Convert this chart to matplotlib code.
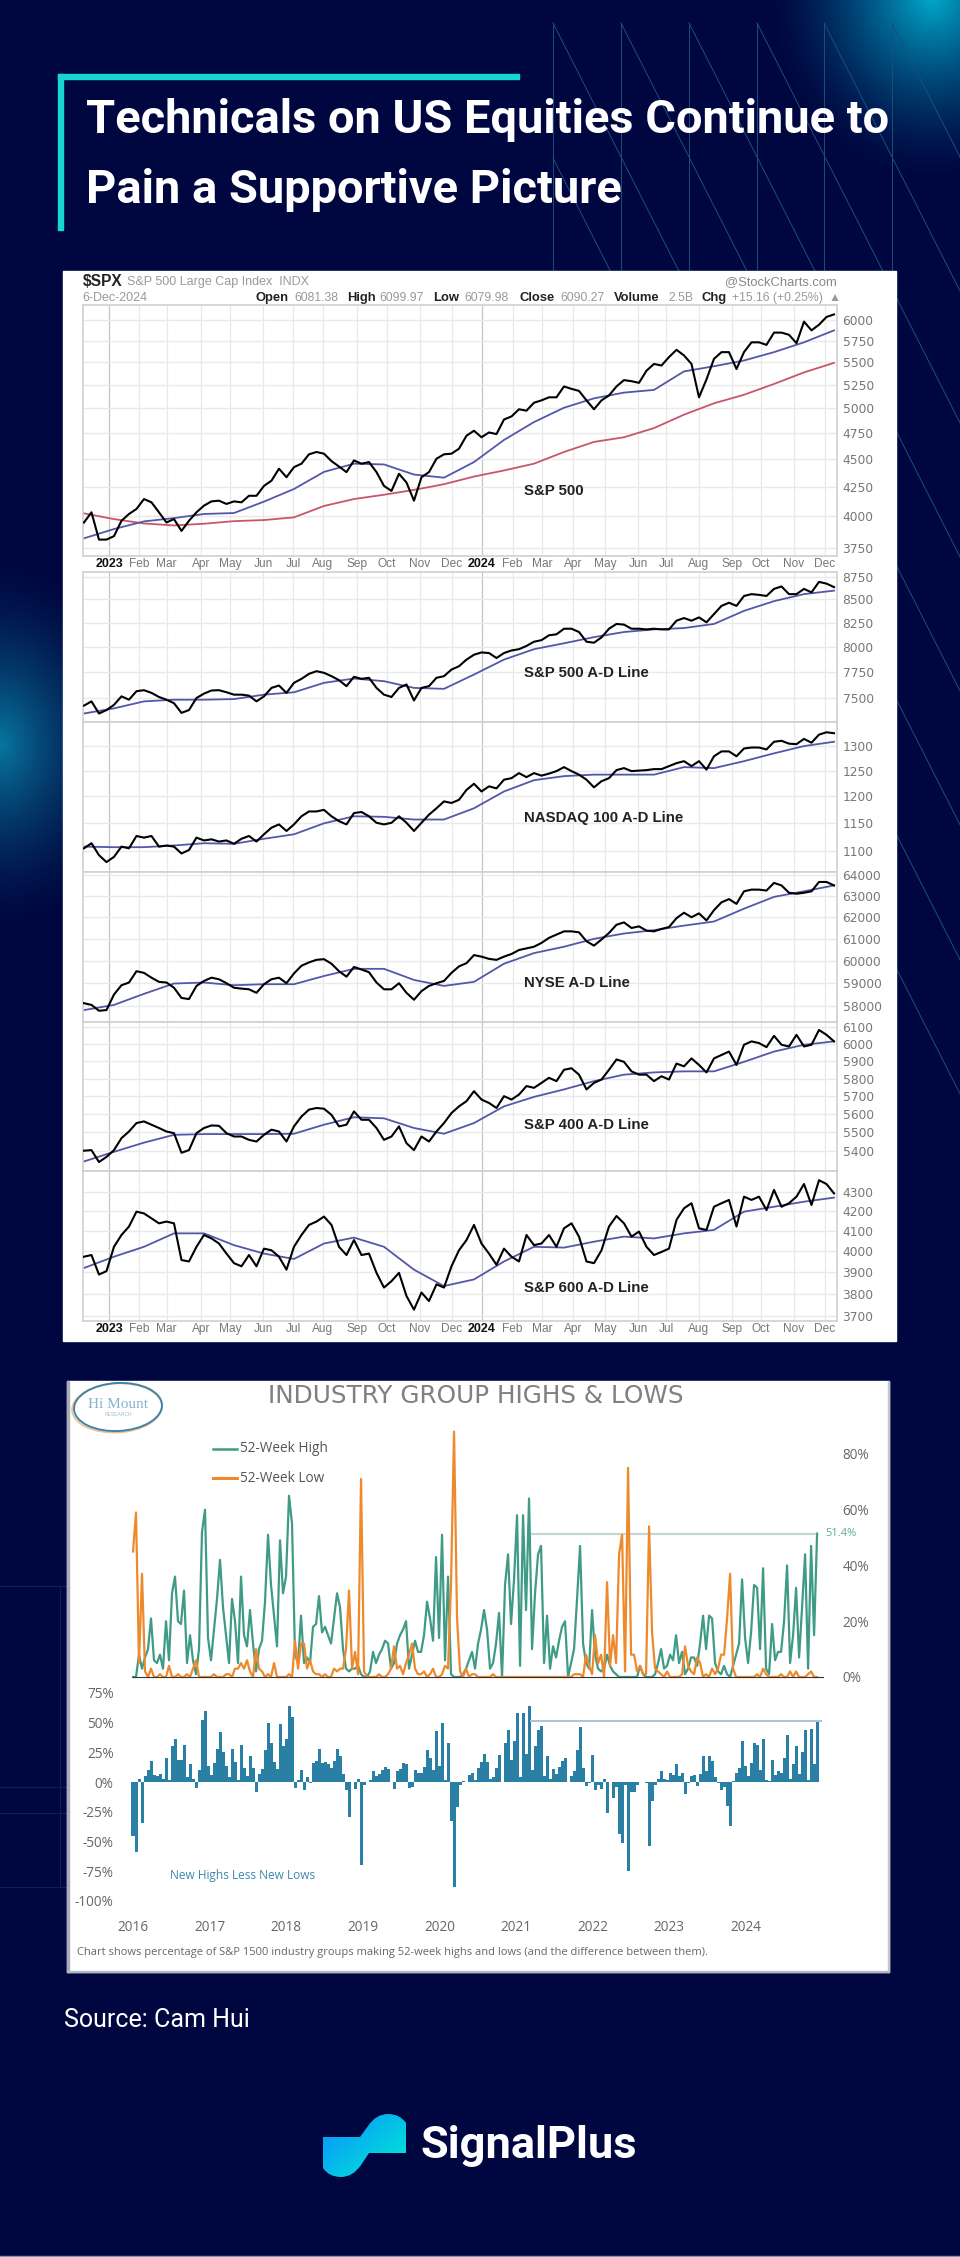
import numpy as np
import matplotlib
matplotlib.use("Agg")
import matplotlib.pyplot as plt
from matplotlib.patches import Rectangle, Ellipse, PathPatch
from matplotlib.path import Path
from matplotlib.ticker import FixedLocator, FixedFormatter, NullLocator

W, H = 960, 2257

# ----------------------------
# StockCharts panels (one reading per week, moving averages every 4 weeks)
# ----------------------------
SPX = [3950, 4034, 3813, 3813, 3840, 3964, 4020, 4062, 4146, 4118, 4034, 3950, 3978, 3882, 3964, 4034, 4090,
       4126, 4132, 4104, 4126, 4118, 4174, 4174, 4260, 4306, 4414, 4337, 4428, 4460, 4547, 4569, 4553, 4484,
       4434, 4383, 4490, 4460, 4475, 4383, 4260, 4216, 4368, 4290, 4132, 4337, 4383, 4506, 4547, 4553, 4600,
       4725, 4774, 4710, 4757, 4741, 4886, 4917, 4990, 4976, 5058, 5083, 5115, 5115, 5231, 5205, 5183, 5083,
       4990, 5083, 5135, 5231, 5300, 5288, 5270, 5404, 5480, 5462, 5558, 5642, 5577, 5480, 5115, 5308, 5538,
       5615, 5615, 5423, 5615, 5730, 5730, 5700, 5846, 5846, 5820, 5720, 5980, 5873, 5942, 6038, 6070]
SPX_MA50 = [3823, 3897, 3959, 3986, 4020, 4028, 4124, 4233, 4385, 4460, 4453, 4361, 4333, 4475, 4684, 4860,
            5006, 5104, 5165, 5194, 5396, 5454, 5519, 5615, 5730, 5873]
SPX_MA200 = [4025, 3978, 3942, 3926, 3940, 3961, 3970, 3992, 4087, 4146, 4183, 4225, 4275, 4343, 4398, 4460,
             4569, 4665, 4710, 4800, 4935, 5052, 5142, 5258, 5385, 5492]

SP500_AD = [7428, 7468, 7354, 7386, 7435, 7516, 7484, 7565, 7575, 7549, 7510, 7484, 7451, 7360, 7386, 7500, 7542,
            7572, 7575, 7555, 7532, 7532, 7523, 7468, 7516, 7597, 7620, 7549, 7646, 7685, 7734, 7760, 7744, 7711,
            7672, 7614, 7705, 7685, 7695, 7597, 7532, 7510, 7597, 7630, 7477, 7597, 7614, 7695, 7711, 7776, 7809,
            7875, 7924, 7947, 7941, 7891, 7941, 7967, 7980, 8013, 8056, 8072, 8122, 8132, 8190, 8190, 8156, 8056,
            8046, 8100, 8190, 8240, 8233, 8190, 8190, 8183, 8190, 8183, 8183, 8274, 8302, 8274, 8309, 8257, 8344,
            8431, 8465, 8431, 8538, 8558, 8550, 8538, 8615, 8642, 8558, 8558, 8615, 8577, 8692, 8673, 8635]
SP500_AD_MA = [7354, 7402, 7468, 7484, 7484, 7490, 7532, 7555, 7646, 7688, 7662, 7597, 7588, 7727, 7875, 7980,
               8040, 8103, 8156, 8183, 8197, 8240, 8378, 8482, 8558, 8596]

NDX_AD = [1104, 1113, 1092, 1080, 1089, 1107, 1104, 1126, 1123, 1126, 1107, 1109, 1107, 1095, 1101, 1123, 1118,
          1120, 1116, 1118, 1112, 1121, 1126, 1116, 1129, 1141, 1147, 1135, 1147, 1162, 1171, 1171, 1174, 1162,
          1153, 1147, 1168, 1170, 1162, 1150, 1147, 1150, 1162, 1150, 1135, 1150, 1165, 1177, 1190, 1187, 1193,
          1212, 1224, 1209, 1219, 1215, 1232, 1235, 1245, 1237, 1245, 1240, 1244, 1249, 1257, 1249, 1242, 1232,
          1217, 1229, 1235, 1251, 1255, 1249, 1250, 1251, 1253, 1253, 1259, 1265, 1269, 1259, 1269, 1252, 1279,
          1289, 1289, 1279, 1295, 1297, 1297, 1293, 1309, 1311, 1305, 1304, 1315, 1307, 1324, 1329, 1327]
NDX_AD_MA = [1107, 1106, 1106, 1109, 1113, 1112, 1121, 1129, 1149, 1162, 1161, 1156, 1156, 1177, 1209, 1231,
             1239, 1242, 1242, 1242, 1257, 1255, 1269, 1285, 1300, 1309]

NYSE_AD = [58120, 58045, 57790, 57820, 58500, 58910, 59030, 59535, 59460, 59245, 59060, 59030, 58800, 58350,
           58300, 58880, 59100, 59245, 59175, 59000, 58800, 58760, 58730, 58575, 58955, 59175, 59245, 59000,
           59435, 59780, 59930, 60045, 60075, 59870, 59535, 59290, 59725, 59610, 59490, 59030, 58730, 58730,
           59000, 58575, 58270, 58650, 58880, 59000, 59100, 59460, 59750, 59895, 60260, 60190, 60090, 60045,
           60190, 60310, 60490, 60565, 60640, 60815, 61045, 61195, 61345, 61345, 61300, 60890, 60690, 60970,
           61270, 61650, 61760, 61500, 61575, 61380, 61345, 61455, 61545, 61955, 62210, 62000, 62180, 61850,
           62330, 62700, 62850, 62625, 63220, 63300, 63300, 63255, 63620, 63500, 63150, 63105, 63150, 63220,
           63665, 63665, 63500]
NYSE_AD_MA = [57820, 58045, 58530, 58985, 59030, 58910, 58955, 58955, 59320, 59640, 59640, 59145, 58880, 59060,
              59870, 60350, 60640, 61000, 61245, 61400, 61610, 61800, 62400, 62955, 63220, 63500]

SP400_AD = [5402, 5405, 5342, 5369, 5405, 5469, 5505, 5551, 5560, 5542, 5524, 5505, 5496, 5391, 5405, 5496, 5524,
            5538, 5536, 5496, 5478, 5478, 5460, 5451, 5487, 5515, 5505, 5451, 5533, 5587, 5625, 5634, 5630, 5596,
            5533, 5542, 5615, 5569, 5569, 5524, 5460, 5478, 5533, 5442, 5405, 5478, 5451, 5505, 5551, 5606, 5643,
            5672, 5728, 5681, 5662, 5634, 5700, 5681, 5709, 5757, 5747, 5775, 5804, 5785, 5850, 5859, 5822, 5738,
            5775, 5794, 5850, 5910, 5896, 5841, 5822, 5822, 5785, 5813, 5794, 5886, 5870, 5916, 5878, 5835, 5916,
            5936, 5956, 5878, 5996, 6016, 6006, 5982, 6049, 5996, 5986, 6055, 5986, 5996, 6084, 6055, 6016]
SP400_AD_MA = [5345, 5396, 5445, 5487, 5491, 5491, 5491, 5493, 5542, 5583, 5577, 5524, 5493, 5551, 5643, 5696,
               5738, 5785, 5822, 5835, 5841, 5841, 5896, 5956, 5996, 6016]

SP600_AD = [3974, 3982, 3889, 3905, 4022, 4080, 4122, 4197, 4188, 4163, 4138, 4147, 4138, 3958, 3951, 4022, 4080,
            4063, 4038, 3989, 3943, 3928, 3982, 3928, 4013, 4005, 3974, 3912, 4022, 4080, 4130, 4147, 4172, 4130,
            4022, 3982, 4055, 3982, 3989, 3897, 3828, 3858, 3897, 3789, 3727, 3805, 3766, 3843, 3828, 3928, 4005,
            4055, 4130, 4038, 3989, 3935, 4013, 3974, 3951, 4080, 4030, 4038, 4080, 4022, 4113, 4138, 4072, 3951,
            3943, 4005, 4122, 4175, 4138, 4072, 4097, 4022, 3982, 3997, 4013, 4155, 4214, 4240, 4113, 4105, 4222,
            4240, 4257, 4122, 4274, 4257, 4274, 4205, 4309, 4222, 4240, 4274, 4340, 4231, 4360, 4340, 4291]
SP600_AD_MA = [3920, 3974, 4022, 4088, 4088, 4030, 3989, 3963, 4038, 4067, 4022, 3912, 3835, 3866, 3951, 4022,
               4018, 4047, 4072, 4063, 4088, 4105, 4197, 4222, 4248, 4269]

MONTH_WEEKS = [3.37, 7.37, 11.03, 15.6, 19.47, 23.87, 27.87, 31.87, 36.4, 40.4, 44.8, 49.07, 53.07, 57.16, 61.07,
               65.16, 69.47, 73.87, 77.6, 82, 86.4, 90.27, 94.67, 98.8]
MONTH_LABELS = ["2023", "Feb", "Mar", "Apr", "May", "Jun", "Jul", "Aug", "Sep", "Oct", "Nov", "Dec",
                "2024", "Feb", "Mar", "Apr", "May", "Jun", "Jul", "Aug", "Sep", "Oct", "Nov", "Dec"]

# ----------------------------
# Industry group highs and lows (one reading per two weeks from Jan 2016)
# ----------------------------
HIGHS = [0, 0, 8, 3, 7, 10, 21, 6, 5, 8, 3, 20, 6, 30, 36, 20, 19, 31, 5, 15,
         6, 1, 10, 52, 60, 14, 6, 17, 28, 42, 25, 15, 5, 28, 20, 5, 36, 15, 11, 24,
         12, 2, 10, 13, 27, 51, 33, 22, 11, 49, 30, 36, 65, 55, 8, 5, 22, 5, 7, 5,
         18, 19, 29, 16, 18, 15, 12, 21, 30, 25, 10, 3, 2, 3, 3, 4, 1, 0, 0, 2,
         9, 5, 8, 10, 13, 12, 3, 5, 12, 15, 17, 20, 3, 8, 13, 9, 9, 15, 27, 21,
         13, 43, 14, 51, 6, 36, 1, 0, 0, 0, 1, 3, 6, 9, 3, 12, 17, 24, 17, 3,
         5, 12, 23, 0, 33, 44, 19, 35, 58, 4, 58, 24, 64, 10, 30, 44, 47, 5, 22, 3,
         11, 7, 13, 18, 20, 0, 5, 10, 28, 47, 12, 5, 3, 24, 8, 3, 2, 3, 8, 4,
         2, 1, 0, 0, 0, 0, 0, 0, 0, 4, 1, 0, 0, 0, 1, 5, 10, 3, 4, 8,
         6, 15, 5, 9, 1, 3, 7, 7, 4, 12, 22, 10, 22, 21, 5, 2, 1, 4, 1, 0,
         4, 8, 12, 35, 14, 5, 16, 33, 32, 10, 39, 3, 1, 19, 6, 9, 9, 20, 40, 5,
         15, 32, 7, 25, 44, 3, 47, 15, 51.4]
LOWS = [45, 59, 5, 37, 2, 0, 3, 0, 0, 1, 0, 0, 4, 0, 0, 1, 0, 0, 1, 0,
        3, 6, 0, 0, 0, 0, 0, 1, 0, 0, 0, 1, 1, 0, 3, 3, 5, 3, 6, 2,
        0, 10, 3, 2, 0, 1, 0, 5, 0, 0, 0, 0, 1, 0, 13, 3, 12, 12, 3, 6,
        2, 1, 1, 0, 1, 0, 0, 3, 2, 3, 3, 10, 31, 3, 9, 1, 71, 2, 0, 0,
        0, 0, 1, 0, 0, 1, 3, 11, 3, 4, 1, 5, 8, 12, 3, 1, 1, 2, 0, 1,
        3, 0, 0, 1, 4, 3, 34, 88, 21, 2, 0, 3, 0, 1, 1, 0, 0, 0, 0, 0,
        1, 0, 0, 0, 0, 0, 0, 0, 0, 0, 0, 0, 0, 0, 0, 0, 0, 0, 0, 0,
        0, 0, 0, 0, 0, 0, 0, 1, 1, 1, 0, 8, 4, 1, 15, 5, 8, 0, 34, 4,
        15, 5, 44, 51, 2, 75, 8, 8, 2, 4, 1, 1, 54, 16, 3, 2, 1, 0, 2, 0,
        0, 0, 0, 1, 11, 4, 2, 1, 7, 5, 0, 1, 0, 3, 1, 3, 8, 8, 21, 37,
        3, 0, 0, 0, 0, 0, 0, 0, 1, 0, 3, 1, 0, 0, 0, 0, 1, 0, 0, 2,
        0, 2, 0, 0, 0, 1, 2, 0, 0]
LATEST_HIGH = 51.4
HIGH_LINE_START = 2021.2
YEARS = [2016, 2017, 2018, 2019, 2020, 2021, 2022, 2023, 2024]

PANEL_NAVY = "#000740"
SANS = ["Liberation Sans", "DejaVu Sans"]


def px_axes(fig, left, top, right, bottom, **kw):
    # axes rectangle given in image pixels
    return fig.add_axes([left / W, 1 - bottom / H, (right - left) / W, (bottom - top) / H], **kw)


def draw_background(bg):
    yy, xx = np.mgrid[0:H, 0:W]
    img = np.zeros((H, W, 3))
    img[:] = (0, 7 / 255, 64 / 255)
    glows = [(932, -5, 165, 185, (0, 170, 205), 1.0),
             (0, 744, 135, 185, (8, 118, 158), 1.0)]
    for cx, cy, rx, ry, col, amp in glows:
        r = np.sqrt(((xx - cx) / rx) ** 2 + ((yy - cy) / ry) ** 2)
        a = amp * np.clip(1 - r, 0, 1) ** 1.5
        for c in range(3):
            img[:, :, c] = img[:, :, c] * (1 - a) + col[c] / 255 * a
    bg.imshow(img, extent=(0, W, H, 0), aspect="auto", zorder=0, interpolation="bilinear")

    # thin lattice behind the charts
    line_col = "#1a4f7c"
    for x0 in [553, 621, 689, 757, 824, 892]:
        bg.plot([x0, x0], [23, 272], color=line_col, lw=0.7, zorder=1)
        bg.plot([x0, x0 + 500], [23, 23 + 500 * 1.97], color=line_col, lw=0.7, zorder=1)
    for y0 in [158, 292]:
        bg.plot([553, 553 + 500], [y0, y0 + 500 * 1.97], color=line_col, lw=0.7, zorder=1)

    faint = "#141e52"
    for y0 in [1586, 1787, 1813, 1887]:
        bg.plot([0, 66], [y0, y0], color=faint, lw=0.8, zorder=1)
    bg.plot([60, 60], [1586, 1887], color=faint, lw=0.8, zorder=1)


def draw_header(bg):
    bg.add_patch(Rectangle((58, 74), 461, 4.5, color="#16d6d0", zorder=2))
    bg.add_patch(Rectangle((58, 74), 4.5, 156, color="#16d6d0", zorder=2))
    for txt, base in [("Technicals on US Equities Continue to", 133), ("Pain a Supportive Picture", 203)]:
        bg.text(86, base, txt, color="white", fontsize=33.8, fontweight="bold", va="baseline",
                family=["Liberation Sans Narrow", "Roboto", "DejaVu Sans"], zorder=3)


def draw_stock_panel(fig, top, bottom, ylim, ticks, label, label_y, price, mas, show_months=False):
    ax = px_axes(fig, 83, top, 837, bottom, facecolor="white", zorder=3)
    weeks = np.arange(len(price))
    ma_weeks = np.arange(len(mas[0][0])) * 4
    ax.set_yscale("log")
    ax.set_xlim(-0.13, 100.4)
    ax.set_ylim(*ylim)
    ax.yaxis.set_major_locator(FixedLocator(ticks))
    ax.yaxis.set_major_formatter(FixedFormatter([str(t) for t in ticks]))
    ax.yaxis.set_minor_locator(NullLocator())
    ax.yaxis.tick_right()
    ax.tick_params(axis="y", length=0, pad=4, labelsize=8.8, labelcolor="#777777")
    ax.set_xticks(MONTH_WEEKS)
    ax.tick_params(axis="x", length=0, labelbottom=False)
    for w, name in zip(MONTH_WEEKS, MONTH_LABELS):
        ax.axvline(w, color="#c4c4c4" if name.isdigit() else "#e8e8e8", lw=0.9, zorder=1)
    for t in ticks:
        ax.axhline(t, color="#eaeaea", lw=1.0, zorder=1)
    for s in ax.spines.values():
        s.set_color("#d0d0d0")
        s.set_linewidth(1.2)
    for ma, col in mas:
        ax.plot(ma_weeks, ma, color=col, lw=1.3, zorder=2)
    ax.plot(weeks, price, color="black", lw=1.5, zorder=3, solid_joinstyle="round")
    fig.text(524 / W, 1 - label_y / H, label, fontsize=10.8, fontweight="bold", va="center", color="#222222",
             family=SANS, zorder=5)
    if show_months:
        for w, name in zip(MONTH_WEEKS, MONTH_LABELS):
            bold = name.isdigit()
            ax.annotate(name, (w, 0), xycoords=("data", "axes fraction"), xytext=(0, -8),
                        textcoords="offset pixels", ha="center", va="center",
                        fontsize=9 if bold else 8.6, fontweight="bold" if bold else "normal",
                        color="#111111" if bold else "#777777", family=SANS, annotation_clip=False)
    return ax


def draw_stockcharts(fig, bg):
    bg.add_patch(Rectangle((63, 271), 833, 1070, color="white", zorder=2))
    blue, red = "#5357a8", "#c8566a"
    draw_stock_panel(fig, 305, 556, (3686, 6189),
                     [3750, 4000, 4250, 4500, 4750, 5000, 5250, 5500, 5750, 6000],
                     "S&P 500", 491, SPX, [(SPX_MA200, red), (SPX_MA50, blue)], True)
    draw_stock_panel(fig, 572, 722, (7275, 8802), [7500, 7750, 8000, 8250, 8500, 8750],
                     "S&P 500 A-D Line", 673, SP500_AD, [(SP500_AD_MA, blue)])
    draw_stock_panel(fig, 722, 872, (1063, 1351), [1100, 1150, 1200, 1250, 1300],
                     "NASDAQ 100 A-D Line", 818, NDX_AD, [(NDX_AD_MA, blue)])
    draw_stock_panel(fig, 872, 1022, (57304, 64144), [58000, 59000, 60000, 61000, 62000, 63000, 64000],
                     "NYSE A-D Line", 983, NYSE_AD, [(NYSE_AD_MA, blue)])
    draw_stock_panel(fig, 1022, 1171, (5295, 6132), [5400, 5500, 5600, 5700, 5800, 5900, 6000, 6100],
                     "S&P 400 A-D Line", 1125, SP400_AD, [(SP400_AD_MA, blue)])
    draw_stock_panel(fig, 1171, 1321, (3676, 4409), [3700, 3800, 3900, 4000, 4100, 4200, 4300],
                     "S&P 600 A-D Line", 1288, SP600_AD, [(SP600_AD_MA, blue)], True)

    fig.text(83 / W, 1 - 282 / H, "$SPX", fontsize=11.2, fontweight="bold", va="center", color="#222222", family=SANS)
    fig.text(127 / W, 1 - 282 / H, "S&P 500 Large Cap Index  INDX", fontsize=9, va="center", color="#999999", family=SANS)
    fig.text(82 / W, 1 - 298 / H, "6-Dec-2024", fontsize=9, va="center", color="#999999", family=SANS)
    fig.text(837 / W, 1 - 282 / H, "@StockCharts.com", fontsize=9.4, ha="right", va="center", color="#888888", family=SANS)
    header = [(256, "Open", True), (294, "6081.38", False), (347, "High", True), (379, "6099.97", False),
              (433, "Low", True), (464, "6079.98", False), (519, "Close", True), (560, "6090.27", False),
              (614, "Volume", True), (668, "2.5B", False), (702, "Chg", True), (732, "+15.16 (+0.25%)", False),
              (829, "▲", False)]
    for x, txt, bold in header:
        fig.text(x / W, 1 - 298 / H, txt, fontsize=9.4 if bold else 8.8, va="center",
                 fontweight="bold" if bold else "normal", color="#222222" if bold else "#999999", family=SANS)


def draw_highs_lows(fig, bg):
    bg.add_patch(Rectangle((67, 1381), 822, 591, color="white", zorder=2))
    bg.add_patch(Rectangle((67, 1381), 1.5, 591, color="#a8acb8", zorder=2))
    bg.add_patch(Rectangle((887.5, 1381), 1.5, 591, color="#c4c6cc", zorder=2))
    bg.add_patch(Rectangle((67, 1970.5), 822, 1.5, color="#b4b8c2", zorder=2))

    dates = 2016 + np.arange(len(HIGHS)) / 25.53
    diff = np.array(HIGHS) - np.array(LOWS)
    xmax = 2016 + 690 / 76.6
    green, orange, teal = "#3f9b85", "#ee8a2c", "#2a7fa5"
    bodies = ["Open Sans", "DejaVu Sans"]

    ax = px_axes(fig, 133, 1426, 823, 1677, zorder=3)
    ax.patch.set_alpha(0)
    ax.set_xlim(2016, xmax)
    ax.set_ylim(0, 90)
    ax.plot([HIGH_LINE_START, dates[-1]], [LATEST_HIGH, LATEST_HIGH], color="#c4d8d2", lw=1.6)
    ax.plot(dates, HIGHS, color=green, lw=1.6, clip_on=False, solid_joinstyle="round")
    ax.plot(dates, LOWS, color=orange, lw=1.6, clip_on=False, solid_joinstyle="round")
    for s in ["top", "left", "right"]:
        ax.spines[s].set_visible(False)
    ax.spines["bottom"].set_color("#333333")
    ax.set_xticks([])
    ax.yaxis.tick_right()
    ax.set_yticks([0, 20, 40, 60, 80])
    ax.set_yticklabels(["0%", "20%", "40%", "60%", "80%"], family=bodies)
    ax.tick_params(axis="y", length=0, pad=14, labelsize=9.8, labelcolor="#666666")
    ax.text(dates[-1] + 8 / 76.6, LATEST_HIGH, "51.4%", color="#5aae9a", fontsize=8, va="center", family=bodies)

    ax2 = px_axes(fig, 133, 1693, 823, 1901, zorder=3)
    ax2.patch.set_alpha(0)
    ax2.set_xlim(2016, xmax)
    ax2.set_ylim(-100, 75)
    ax2.bar(dates, diff, width=1 / 25.53, color=teal, linewidth=0, clip_on=False)
    ax2.plot([HIGH_LINE_START, dates[-1] + 4 / 76.6], [LATEST_HIGH, LATEST_HIGH], color="#a8c4d2", lw=1.4)
    for s in ax2.spines.values():
        s.set_visible(False)
    ax2.set_xticks(YEARS)
    ax2.set_xticklabels([str(y) for y in YEARS], family=bodies)
    ax2.set_yticks([-100, -75, -50, -25, 0, 25, 50, 75])
    ax2.set_yticklabels(["-100%", "-75%", "-50%", "-25%", "0%", "25%", "50%", "75%"], family=bodies)
    ax2.tick_params(axis="x", length=0, pad=14, labelsize=9.8, labelcolor="#666666")
    ax2.tick_params(axis="y", length=0, pad=14, labelsize=9.8, labelcolor="#666666")

    fig.text(170 / W, 1 - 1876 / H, "New Highs Less New Lows", color="#3d88ac", fontsize=8.6, va="center", family=bodies)
    fig.text(77 / W, 1 - 1953 / H,
             "Chart shows percentage of S&P 1500 industry groups making 52-week highs and lows (and the difference between them).",
             color="#666666", fontsize=8.05, va="center", family=bodies)
    fig.text(476 / W, 1 - 1396 / H, "INDUSTRY GROUP HIGHS & LOWS", color="#808080", fontsize=17.8, ha="center",
             va="center", family=["DejaVu Sans"])

    # legend
    bg.plot([213, 237], [1449, 1449], color=green, lw=1.8, zorder=4)
    bg.plot([213, 237], [1478, 1478], color=orange, lw=2.2, zorder=4)
    fig.text(240 / W, 1 - 1449 / H, "52-Week High", color="#555555", fontsize=9.8, va="center", family=bodies)
    fig.text(240 / W, 1 - 1478 / H, "52-Week Low", color="#555555", fontsize=9.8, va="center", family=bodies)

    # Hi Mount logo
    bg.add_patch(Ellipse((117, 1408), 90, 49, angle=-3, fill=False, ec="#f0c090", lw=1.2, zorder=4))
    bg.add_patch(Ellipse((118, 1407), 88, 48, angle=-3, fill=False, ec="#3d85a8", lw=1.4, zorder=4))
    fig.text(118 / W, 1 - 1405 / H, "Hi Mount", color="#86b4cc", fontsize=11, ha="center", va="center",
             family=["Liberation Serif", "DejaVu Serif"])
    fig.text(118 / W, 1 - 1414 / H, "RESEARCH", color="#9cc2d4", fontsize=3.6, ha="center", va="center", family=SANS)


def draw_footer(fig, bg):
    fig.text(64 / W, 1 - 2020 / H, "Source: Cam Hui", color="white", fontsize=18, va="center",
             family=["Roboto", "DejaVu Sans"])
    verts = [(323, 2137), (360, 2137), (368, 2126), (376, 2114), (388, 2114), (400, 2114), (406, 2123), (406, 2153),
             (369, 2153), (361, 2165), (353, 2177), (341, 2177), (329, 2177), (323, 2168), (323, 2137)]
    codes = [Path.MOVETO, Path.LINETO, Path.LINETO, Path.CURVE3, Path.CURVE3, Path.CURVE3, Path.CURVE3, Path.LINETO,
             Path.LINETO, Path.LINETO, Path.CURVE3, Path.CURVE3, Path.CURVE3, Path.CURVE3, Path.CLOSEPOLY]
    patch = PathPatch(Path(verts, codes), fc="none", ec="none", zorder=4)
    bg.add_patch(patch)
    g = np.linspace(0, 1, 100)[None, :] * 0.5 + np.linspace(1, 0, 100)[:, None] * 0.5
    start, end = np.array([10, 140, 255]) / 255, np.array([0, 240, 210]) / 255
    grad = start[None, None, :] * (1 - g[:, :, None]) + end[None, None, :] * g[:, :, None]
    im = bg.imshow(grad, extent=(323, 406, 2178, 2112), origin="lower", aspect="auto", zorder=4)
    im.set_clip_path(patch)
    fig.text(421 / W, 1 - 2158 / H, "SignalPlus", color="white", fontsize=32.6, fontweight="bold", va="baseline",
             family=["Roboto", "DejaVu Sans"])
    bg.add_patch(Rectangle((0, 2256), W, 1, color="#8a8fc0", zorder=5))


def main():
    fig = plt.figure(figsize=(W / 100, H / 100), dpi=100, facecolor=PANEL_NAVY)
    bg = fig.add_axes([0, 0, 1, 1], zorder=0)
    draw_background(bg)
    draw_header(bg)
    draw_stockcharts(fig, bg)
    draw_highs_lows(fig, bg)
    draw_footer(fig, bg)
    bg.set_xlim(0, W)
    bg.set_ylim(H, 0)
    bg.axis("off")
    fig.savefig("out.png", dpi=100, facecolor=fig.get_facecolor())


if __name__ == "__main__":
    main()
